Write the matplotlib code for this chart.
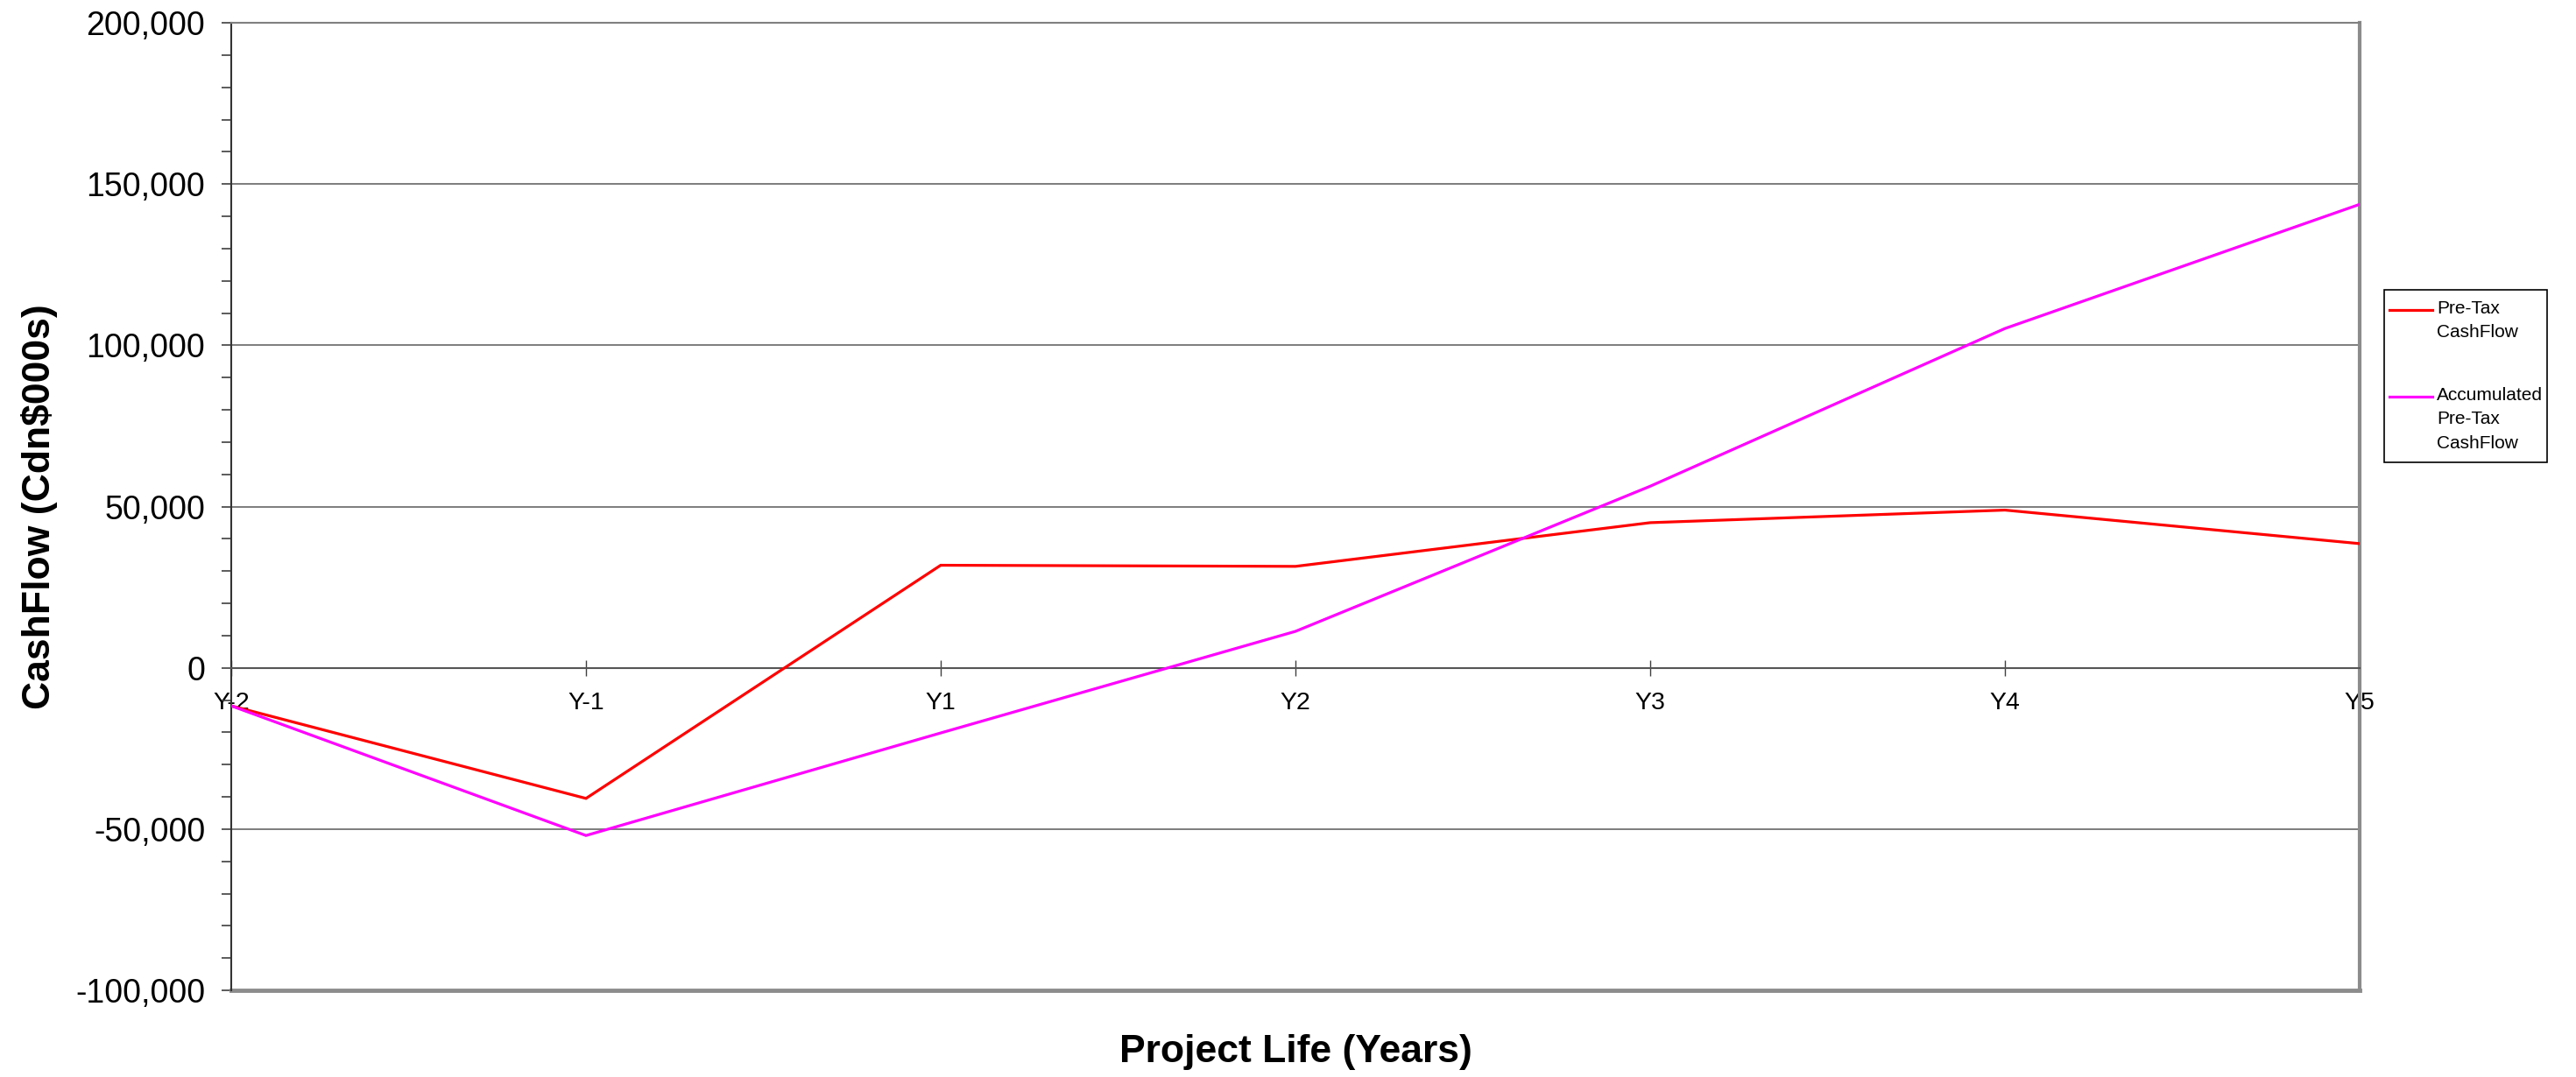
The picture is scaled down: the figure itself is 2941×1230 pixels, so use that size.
import numpy as np
import matplotlib
matplotlib.use("Agg")
import matplotlib.pyplot as plt
from matplotlib.ticker import MultipleLocator, FuncFormatter
from matplotlib.lines import Line2D
from matplotlib.patches import Rectangle

# ---------- data (Cdn$000s) ----------
years = ["Y-2", "Y-1", "Y1", "Y2", "Y3", "Y4", "Y5"]
pretax = [-11800, -40500, 31800, 31450, 45000, 48900, 38500]
accum_pretax = [-11800, -52000, -20200, 11300, 56300, 105200, 143700]
series_names = ["Pre-Tax\nCashFlow", "Accumulated\nPre-Tax\nCashFlow"]
series_colors = ["#FF0000", "#FF00FF"]
y_min, y_max = -100000, 200000

plt.rcParams["font.family"] = ["Liberation Sans", "DejaVu Sans"]

W, H = 2941, 1230
fig = plt.figure(figsize=(W / 100, H / 100), dpi=100)
# axes box in pixels: left 264, right 2694, top 26, bottom 1131
ax = fig.add_axes([264 / W, 1 - 1131 / H, (2694 - 264) / W, (1131 - 26) / H])

x = np.arange(len(years))
for vals, c in zip([pretax, accum_pretax], series_colors):
    ax.plot(x, vals, color=c, lw=2.3, solid_joinstyle="miter", zorder=3)

ax.set_xlim(x[0], x[-1])
ax.set_ylim(y_min, y_max)

# y axis
ax.yaxis.set_major_locator(MultipleLocator(50000))
ax.yaxis.set_minor_locator(MultipleLocator(10000))
ax.yaxis.set_major_formatter(FuncFormatter(lambda v, p: f"{v:,.0f}"))
ax.tick_params(axis="y", which="both", direction="out", length=8, width=1.2,
               color="#404040", labelsize=27, pad=13.5)
ax.grid(axis="y", which="major", color="#666666", lw=1.2, zorder=1)

# x axis crossing at zero
ax.spines["bottom"].set_position(("data", 0))
ax.spines["bottom"].set_color("#555555")
ax.spines["bottom"].set_linewidth(1.5)
ax.set_xticks(x)
ax.set_xticklabels(years)
ax.tick_params(axis="x", direction="inout", length=13, width=1.0,
               color="#404040", labelsize=20.5, pad=13)

ax.spines["left"].set_color("#333333")
ax.spines["left"].set_linewidth(1.5)
ax.spines["top"].set_color("#808080")
ax.spines["top"].set_linewidth(1.5)
ax.spines["right"].set_color("#8c8c8c")
ax.spines["right"].set_linewidth(3)
# plot-area bottom border
ax.axhline(y_min, color="#8c8c8c", lw=3.5, clip_on=False, zorder=2)

ax.set_ylabel("CashFlow (Cdn$000s)", fontsize=32, fontweight="bold", va="center")
ax.yaxis.set_label_coords((45 - 264) / (2694 - 264), 0.5)
ax.set_xlabel("Project Life (Years)", fontsize=32, fontweight="bold", va="center")
ax.xaxis.set_label_coords(0.5, (1131 - 1202) / (1131 - 26))

# ---------- legend, drawn by hand so handles sit on the first text line ----------
def fx(px): return px / W
def fy(py): return 1 - py / H

fig.add_artist(Rectangle((fx(2722), fy(528)), fx(2908) - fx(2722), fy(331) - fy(528),
                         transform=fig.transFigure, fill=False, ec="black", lw=1.2))
for (hy, ty), name, c in zip([(354, 343), (453, 442)], series_names, series_colors):
    fig.add_artist(Line2D([fx(2728), fx(2777)], [fy(hy), fy(hy)],
                          transform=fig.transFigure, color=c, lw=2.3))
    fig.text(fx(2782), fy(ty), name, fontsize=15, va="top", ha="left",
             linespacing=1.55)

fig.savefig("out.png", dpi=100)
